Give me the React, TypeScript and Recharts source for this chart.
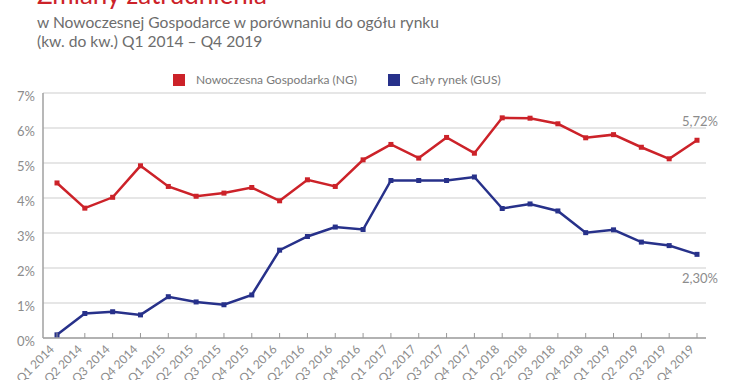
import React from 'react'
import { LineChart, Line, XAxis, YAxis, CartesianGrid } from 'recharts'

const quarters = [
  'Q1 2014', 'Q2 2014', 'Q3 2014', 'Q4 2014',
  'Q1 2015', 'Q2 2015', 'Q3 2015', 'Q4 2015',
  'Q1 2016', 'Q2 2016', 'Q3 2016', 'Q4 2016',
  'Q1 2017', 'Q2 2017', 'Q3 2017', 'Q4 2017',
  'Q1 2018', 'Q2 2018', 'Q3 2018', 'Q4 2018',
  'Q1 2019', 'Q2 2019', 'Q3 2019', 'Q4 2019',
]

// Nowoczesna Gospodarka (NG), % r/r
const ngValues = [
  4.43, 3.71, 4.02, 4.92, 4.33, 4.05, 4.14, 4.3,
  3.92, 4.52, 4.33, 5.09, 5.53, 5.14, 5.73, 5.28,
  6.29, 6.28, 6.12, 5.72, 5.81, 5.45, 5.12, 5.65,
]

// Cały rynek (GUS), % r/r
const gusValues = [
  0.09, 0.7, 0.75, 0.66, 1.18, 1.03, 0.95, 1.23,
  2.51, 2.9, 3.17, 3.1, 4.5, 4.5, 4.5, 4.6,
  3.7, 3.83, 3.63, 3.01, 3.09, 2.74, 2.64, 2.39,
]

const yTicks = [0, 1, 2, 3, 4, 5, 6, 7]
const seriesNames = ['Nowoczesna Gospodarka (NG)', 'Cały rynek (GUS)']
const endLabels = ['5,72%', '2,30%']

const RED = '#cc2229'
const BLUE = '#27318a'
const GREY = '#8c8c8c'
const FONT = 'Lato, "Open Sans", sans-serif'

const data = quarters.map((q, i) => ({ q, ng: ngValues[i], gus: gusValues[i] }))

const SquareDot = (props: any) => {
  const { cx, cy, stroke, index } = props
  if (cx == null || cy == null) return null
  return <rect key={index} x={cx - 2.5} y={cy - 2.5} width={5} height={5} fill={stroke} />
}

const XTick = ({ x, y, payload }: any) => (
  <g>
    <line x1={x} x2={x} y1={y - 5} y2={y} stroke="#999" strokeWidth={1} />
    <text
      x={x - 2}
      y={y + 12}
      transform={`rotate(-45, ${x - 2}, ${y + 12})`}
      textAnchor="end"
      fill={GREY}
      fontSize={12}
      fontFamily={FONT}
    >
      {payload.value}
    </text>
  </g>
)

const YTick = ({ x, y, payload }: any) => (
  <text x={x} y={y + 8} textAnchor="end" fill={GREY} fontSize={13} fontFamily={FONT}>
    {payload.value}%
  </text>
)

const endLabel = (text: string, dy: number) => (props: any) => {
  const { x, y, index } = props
  if (index !== quarters.length - 1) return null
  return (
    <text key="end" x={x + 21} y={y + dy} textAnchor="end" fill={GREY} fontSize={13} fontFamily={FONT}>
      {text}
    </text>
  )
}

export default function App() {
  return (
    <div style={{ position: 'absolute', left: 0, top: 0, width: 730, height: 380, background: '#fff', fontFamily: FONT, overflow: 'hidden' }}>
      <div style={{ position: 'absolute', left: 37, top: -22, fontSize: 26, color: RED, whiteSpace: 'nowrap' }}>
        Zmiany zatrudnienia
      </div>
      <div style={{ position: 'absolute', left: 37, top: 13, fontSize: 15.6, lineHeight: '19px', color: '#6d6d6d', whiteSpace: 'nowrap' }}>
        w Nowoczesnej Gospodarce w porównaniu do ogółu rynku
        <br />
        (kw. do kw.) Q1 2014 – Q4 2019
      </div>
      <div style={{ position: 'absolute', left: 0, top: 72, width: 730, height: 16, fontSize: 12, color: '#7a7a7a' }}>
        {[RED, BLUE].map((c, i) => (
          <div key={c} style={{ position: 'absolute', left: i === 0 ? 173 : 388, top: 0, display: 'flex', alignItems: 'center', whiteSpace: 'nowrap' }}>
            <span style={{ display: 'inline-block', width: 12, height: 12, background: c, marginRight: 11 }} />
            <span>{seriesNames[i]}</span>
          </div>
        ))}
      </div>
      <div style={{ position: 'absolute', left: 0, top: 0 }}>
        <LineChart width={730} height={380} data={data} margin={{ top: 93, right: 24, bottom: 0, left: 8 }}>
          <CartesianGrid vertical={false} stroke="#dedede" strokeWidth={1.5} />
          <XAxis
            dataKey="q"
            interval={0}
            height={42}
            padding={{ left: 14, right: 9 }}
            axisLine={{ stroke: '#a0a0a0', strokeWidth: 1.5 }}
            tickLine={false}
            tickSize={0}
            tickMargin={0}
            tick={<XTick />}
          />
          <YAxis
            domain={[0, 7]}
            ticks={yTicks}
            width={35}
            axisLine={{ stroke: '#a0a0a0', strokeWidth: 1.5 }}
            tickLine={false}
            tickSize={0}
            tickMargin={8}
            tick={<YTick />}
          />
          <Line
            type="linear"
            dataKey="ng"
            stroke={RED}
            strokeWidth={2.5}
            dot={<SquareDot />}
            activeDot={false}
            isAnimationActive={false}
            label={endLabel(endLabels[0], -14)}
          />
          <Line
            type="linear"
            dataKey="gus"
            stroke={BLUE}
            strokeWidth={2.5}
            dot={<SquareDot />}
            activeDot={false}
            isAnimationActive={false}
            label={endLabel(endLabels[1], 29)}
          />
        </LineChart>
      </div>
    </div>
  )
}
